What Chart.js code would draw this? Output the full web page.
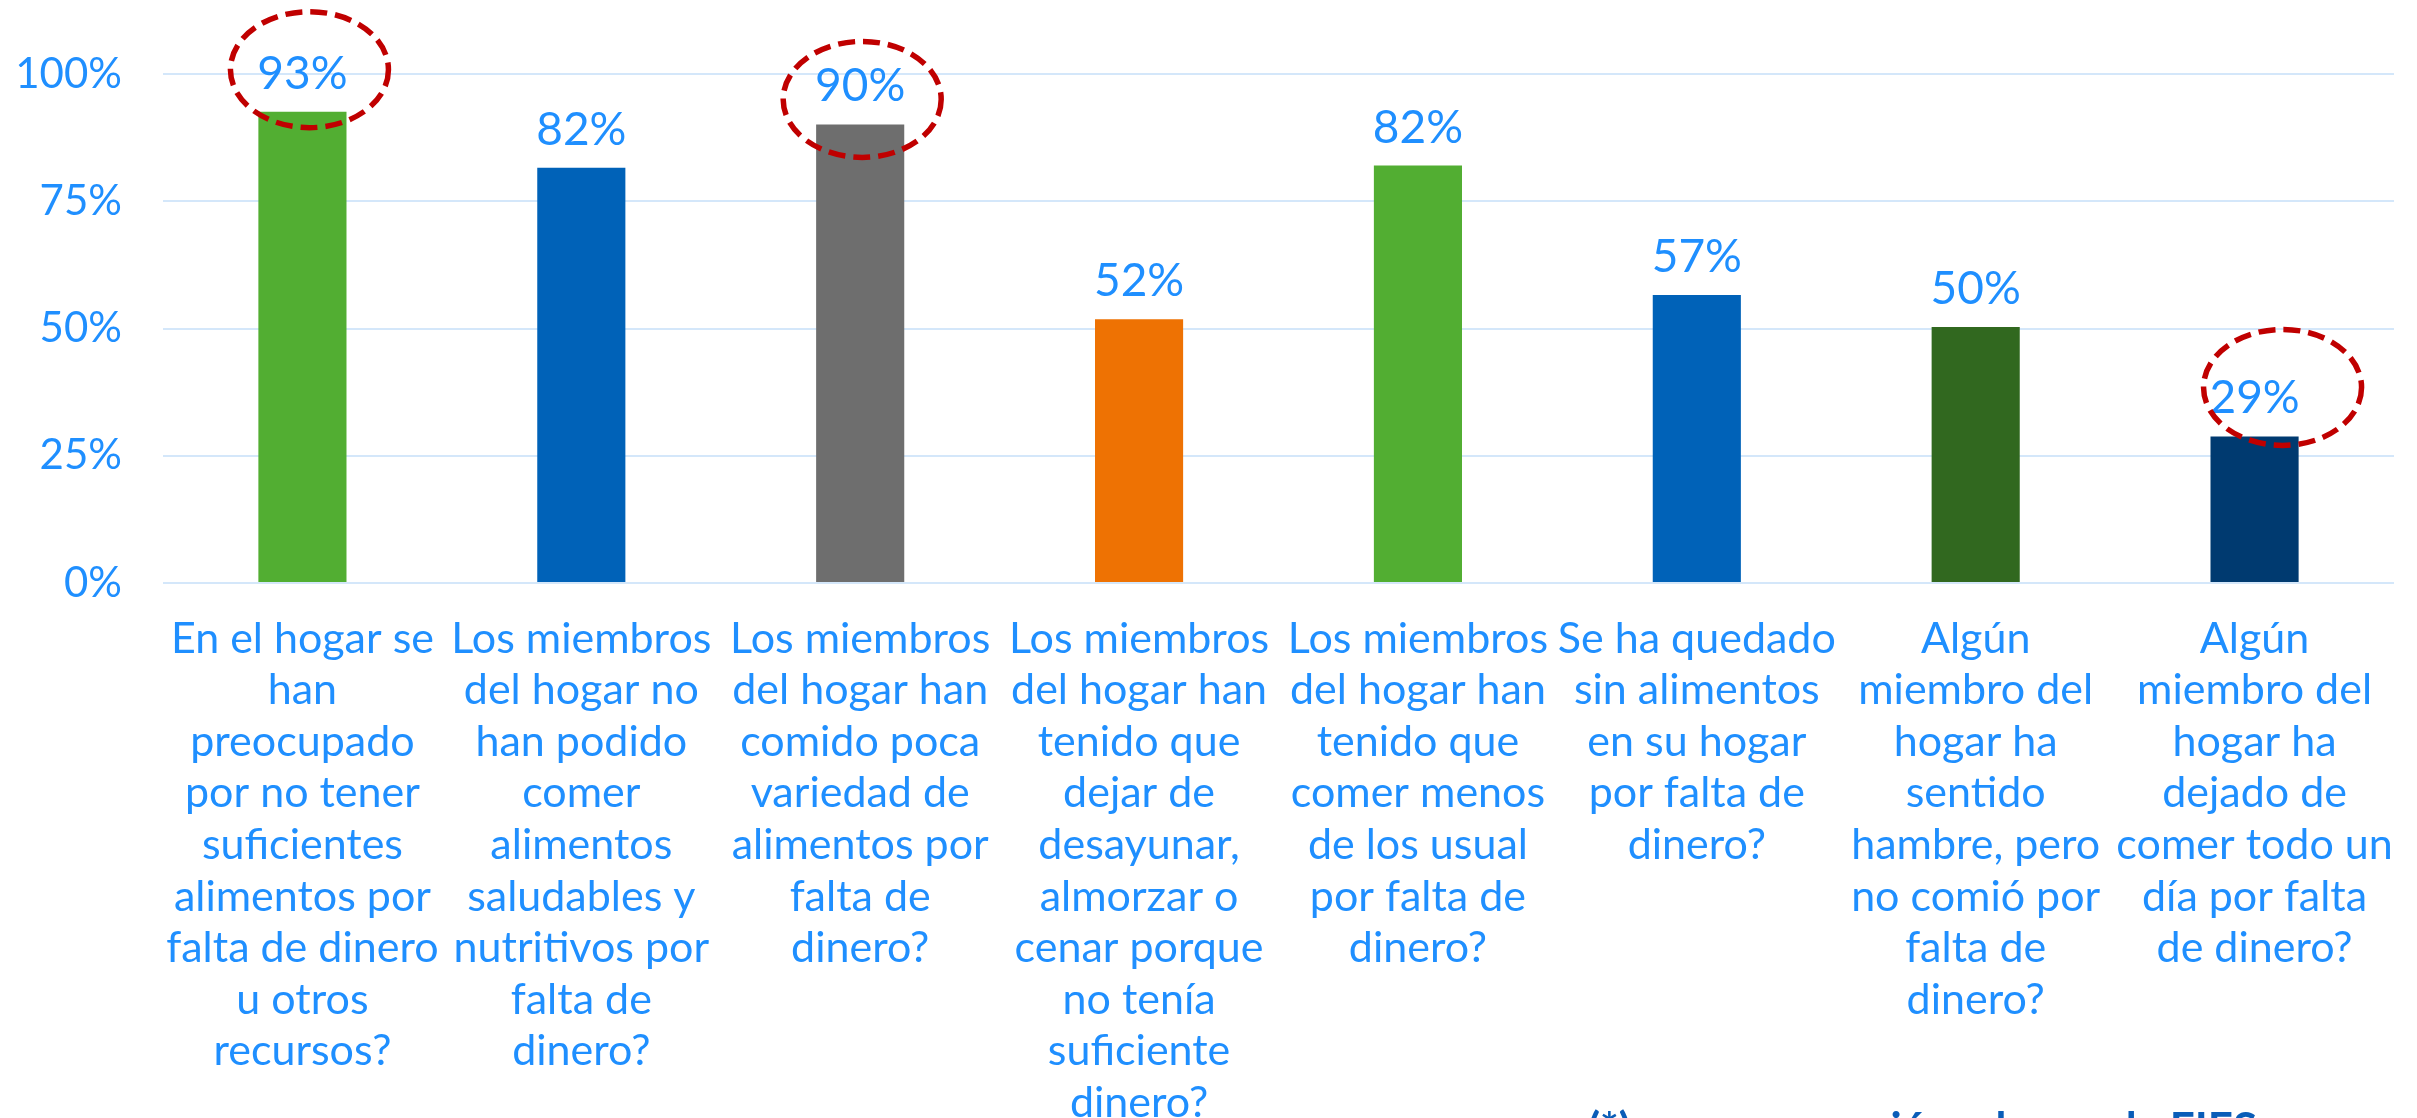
<!DOCTYPE html>
<html>
<head>
<meta charset="utf-8">
<script src="https://cdn.jsdelivr.net/npm/chart.js@4"></script>
<style>
html, body { margin: 0; padding: 0; background: #fff; }
#contenedor { width: 2417px; height: 1118px; position: relative; }
</style>
</head>
<body>
<div id="contenedor"><canvas id="grafico"></canvas></div>
<script>
/* Inseguridad alimentaria: porcentaje de hogares por pregunta */

const categorias = [
    ["En el hogar se", "han", "preocupado", "por no tener", "suficientes", "alimentos por", "falta de dinero", "u otros", "recursos?"],
    ["Los miembros", "del hogar no", "han podido", "comer", "alimentos", "saludables y", "nutritivos por", "falta de", "dinero?"],
    ["Los miembros", "del hogar han", "comido poca", "variedad de", "alimentos por", "falta de", "dinero?"],
    ["Los miembros", "del hogar han", "tenido que", "dejar de", "desayunar,", "almorzar o", "cenar porque", "no tenía", "suficiente", "dinero?"],
    ["Los miembros", "del hogar han", "tenido que", "comer menos", "de los usual", "por falta de", "dinero?"],
    ["Se ha quedado", "sin alimentos", "en su hogar", "por falta de", "dinero?"],
    ["Algún", "miembro del", "hogar ha", "sentido", "hambre, pero", "no comió por", "falta de", "dinero?"],
    ["Algún", "miembro del", "hogar ha", "dejado de", "comer todo un", "día por falta", "de dinero?"]
];
const porcentajes = [92.6, 81.6, 90.1, 51.8, 82.0, 56.6, 50.3, 28.8];
const ticksY = [0, 25, 50, 75, 100];
const coloresBarras = ["#52AE32", "#0062B8", "#6E6E6E", "#EE7203", "#52AE32", "#0062B8", "#31681F", "#003A70"];
const resaltados = [0, 2, 7];
const notaPie = "(*) en comparación a la escala FIES";

const azulTexto = "#1F8FFF";

// desplazamiento de cada elipse respecto a la etiqueta de su barra
const elipses = {
    0: { dx: 7, dy: -3 },
    2: { dx: 2, dy: 14 },
    7: { dx: 28, dy: -10 }
};

const etiquetasPlugin = {
    id: 'etiquetas',
    afterDatasetsDraw(chart) {
        const ctx = chart.ctx;
        const meta = chart.getDatasetMeta(0);
        ctx.save();
        ctx.font = '46px Lato';
        ctx.fillStyle = azulTexto;
        ctx.textAlign = 'center';
        ctx.textBaseline = 'alphabetic';
        meta.data.forEach(function (barra, i) {
            ctx.fillText(Math.round(porcentajes[i]) + '%', barra.x, barra.y - 23);
        });

        ctx.strokeStyle = '#C00000';
        ctx.lineWidth = 5.5;
        ctx.setLineDash([17, 8]);
        resaltados.forEach(function (i) {
            const barra = meta.data[i];
            const off = elipses[i];
            ctx.beginPath();
            ctx.ellipse(barra.x + off.dx, barra.y - 39 + off.dy, 79, 58, 0, 0, Math.PI * 2);
            ctx.stroke();
        });
        ctx.restore();
    },
    afterDraw(chart) {
        const ctx = chart.ctx;
        ctx.save();
        ctx.font = 'bold 44px Lato';
        ctx.fillStyle = '#0A5DB8';
        ctx.textAlign = 'left';
        ctx.textBaseline = 'alphabetic';
        ctx.fillText(notaPie, 1588, 1144);
        ctx.restore();
    }
};

new Chart(document.getElementById("grafico"), {
    type: 'bar',
    data: {
        labels: categorias,
        datasets: [
            {
                label: "Hogares",
                backgroundColor: coloresBarras,
                data: porcentajes,
                categoryPercentage: 1.0,
                barPercentage: 0.316
            }
        ]
    },
    options: {
        responsive: true,
        maintainAspectRatio: false,
        animation: false,
        layout: { padding: { top: 74, right: 23, left: 0, bottom: 0 } },
        plugins: {
            legend: { display: false },
            tooltip: { enabled: false },
            title: { display: false }
        },
        scales: {
            x: {
                grid: { display: false, drawTicks: false },
                border: { display: false },
                ticks: {
                    color: azulTexto,
                    font: { family: 'Lato', size: 43, lineHeight: 1.2 },
                    padding: 30,
                    maxRotation: 0,
                    autoSkip: false
                },
                afterFit: function (s) {
                    s.height = 535;
                    s.paddingLeft = 0;
                    s.paddingRight = 0;
                }
            },
            y: {
                min: 0,
                max: 100,
                afterBuildTicks: function (s) { s.ticks = ticksY.map(v => ({ value: v })); },
                ticks: {
                    color: azulTexto,
                    font: { family: 'Lato', size: 42 },
                    padding: 41,
                    callback: v => v + '%'
                },
                grid: { color: '#D4E7FA', lineWidth: 2, drawTicks: false },
                border: { display: false },
                afterFit: function (s) { s.width = 163; }
            }
        }
    },
    plugins: [etiquetasPlugin]
});
</script>
</body>
</html>
